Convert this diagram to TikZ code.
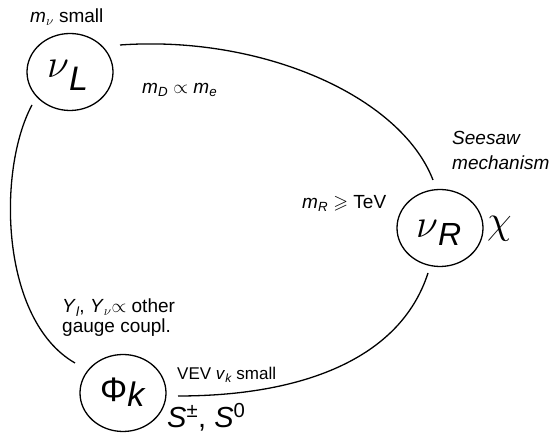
\RequirePackage{fix-cm}
\documentclass[tikz,border=0pt]{standalone}
\usepackage{amsmath,amssymb}
\usepackage{fontspec}
\setmainfont{Liberation Sans}
\usetikzlibrary{shapes.geometric}
\newcommand{\si}[1]{\text{\itshape #1}}
\begin{document}
\begin{tikzpicture}[x=1pt,y=1pt,
  ell/.style={draw, ellipse, line width=1.3pt, minimum width=86pt, minimum height=77pt, inner sep=0pt},
  conn/.style={line width=1.3pt},
  lab/.style={anchor=base west, inner sep=0pt, font=\fontsize{19}{22}\selectfont},
  smlab/.style={anchor=base west, inner sep=0pt, font=\fontsize{17}{20}\selectfont},
  big/.style={anchor=base west, inner sep=0pt}]
\useasboundingbox (0,0) rectangle (555,433);
% nodes
\node[ell] (nuL) at (70,361) {};
\node[ell] (nuR) at (440,205) {};
\node[ell] (phi) at (123,40) {};
% node texts
\node[big, font=\fontsize{40}{40}\selectfont] (nuLt) at (47,355) {$\nu$\raisebox{-13pt}{\fontsize{34}{34}\selectfont\itshape L}};
\node[big, font=\fontsize{40}{40}\selectfont] (nuRt) at (416,195) {$\nu$\raisebox{-8pt}{\fontsize{32}{32}\selectfont\itshape R}};
\node[big, font=\fontsize{34}{34}\selectfont] (phit) at (100,31) {Φ\raisebox{-5pt}{\itshape k}};
\node[big, font=\fontsize{29}{29}\selectfont] (sfields) at (167,5) {{\itshape S}\textsuperscript{±}, {\itshape S}\textsuperscript{0}};
\node[big, font=\fontsize{40}{40}\selectfont] (chi) at (487,199) {$\chi$};
% connectors
\draw[conn] ([shift={(50,27)}]nuL.center) .. controls (260,398) and (400,338) .. ([shift={(-7,48)}]nuR.center);
\draw[conn] ([shift={(-38,-33)}]nuL.center) .. controls (-3,263) and (0,113) .. ([shift={(-48,30)}]phi.center);
\draw[conn] ([shift={(55,-3)}]phi.center) .. controls (300,37) and (400,73) .. ([shift={(-12,-45)}]nuR.center);
% labels
\node[lab] (mnu) at (30,410) {\textit{m}$_{\nu}$ small};
\node[lab] (mD) at (142,339) {\textit{m}$_{\si{D}}$ $\propto$ \textit{m}$_{\si{e}}$};
\node[lab] (mR) at (302,224) {\textit{m}$_{\si{R}}$ $\geqslant$ TeV};
\node[lab] (see1) at (452,288) {\itshape Seesaw};
\node[lab] (see2) at (452,263) {\itshape mechanism};
\node[lab] (yuk1) at (62,120) {\textit{Y}$_{\si{l}}$, \textit{Y}$_{\nu}$$\propto$ other};
\node[lab] (yuk2) at (62,100) {gauge coupl.};
\node[smlab] (vev) at (177,53) {VEV \textit{v}$_{\si{k}}$ small};
\end{tikzpicture}
\end{document}
